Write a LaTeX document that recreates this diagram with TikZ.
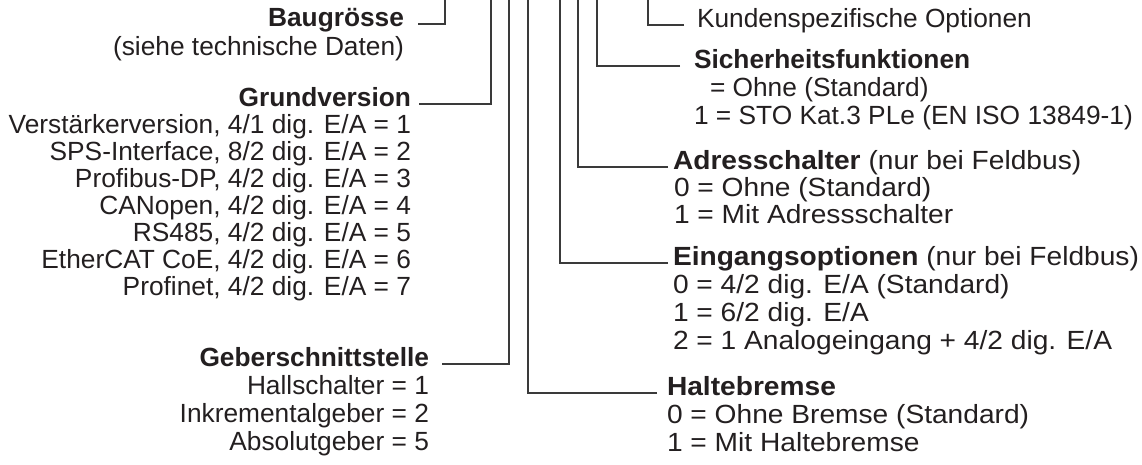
\documentclass[tikz,border=0pt]{standalone}
\usepackage{fontspec}
\setmainfont{Liberation Sans}
\newfontfamily\widefont[FakeStretch=1.07]{Liberation Sans}
\definecolor{ink}{HTML}{231F20}
\definecolor{wire}{HTML}{3A3A3A}
\tikzset{
  lbl/.style={inner sep=0pt, outer sep=0pt, font=\fontsize{26.3}{28}\selectfont, text=ink},
  hd/.style={lbl, font=\fontsize{26.3}{28}\selectfont\bfseries},
  wlbl/.style={lbl, font=\fontsize{26.3}{28}\selectfont\widefont},
  whd/.style={lbl, font=\fontsize{26.3}{28}\selectfont\widefont\bfseries},
  lft/.style={anchor=mid east},
  rgt/.style={anchor=mid west},
  conn/.style={draw=wire, line width=1.25pt},
}
\begin{document}
\begin{tikzpicture}[x=1pt,y=-1pt]
\useasboundingbox (0,0) rectangle (1142,465);

% top ends of the connectors
\coordinate (t1) at (445,0);
\coordinate (t2) at (491,0);
\coordinate (t3) at (509,0);
\coordinate (t4) at (528,0);
\coordinate (t5) at (560,0);
\coordinate (t6) at (578,0);
\coordinate (t7) at (597,0);
\coordinate (t8) at (648,0);

% left column
\node[hd,lft] (bg) at (404,24) {Baugrösse};
\node[lbl,lft] (bg1) at (404,53) {(siehe technische Daten)};

\node[hd,lft] (gv) at (411,104) {Grundversion};
\node[lbl,lft] (gv1) at (411,131) {Verstärkerversion, 4/1 dig. E/A = 1};
\node[lbl,lft] (gv2) at (411,158) {SPS-Interface, 8/2 dig. E/A = 2};
\node[lbl,lft] (gv3) at (411,185) {Profibus-DP, 4/2 dig. E/A = 3};
\node[lbl,lft] (gv4) at (411,212) {CANopen, 4/2 dig. E/A = 4};
\node[lbl,lft] (gv5) at (411,239) {RS485, 4/2 dig. E/A = 5};
\node[lbl,lft] (gv6) at (411,266) {EtherCAT CoE, 4/2 dig. E/A = 6};
\node[lbl,lft] (gv7) at (411,293) {Profinet, 4/2 dig. E/A = 7};

\node[hd,lft] (gs) at (429,364) {Geberschnittstelle};
\node[lbl,lft] (gs1) at (429,392) {Hallschalter = 1};
\node[lbl,lft] (gs2) at (429,420) {Inkrementalgeber = 2};
\node[lbl,lft] (gs3) at (429,448) {Absolutgeber = 5};

% right column
\node[lbl,rgt] (ko) at (697,25) {Kundenspezifische Optionen};

\node[hd,rgt] (sf) at (694,66) {Sicherheitsfunktionen};
\node[lbl,rgt] (sf1) at (694,94) {\hspace*{16pt}= Ohne (Standard)};
\node[lbl,rgt] (sf2) at (694,122) {1 = STO Kat.3 PLe (EN ISO 13849-1)};

\node[wlbl,rgt] (as) at (673,167) {\textbf{Adresschalter} (nur bei Feldbus)};
\node[wlbl,rgt] (as1) at (674,194) {0 = Ohne (Standard)};
\node[wlbl,rgt] (as2) at (674,221) {1 = Mit Adressschalter};

\node[wlbl,rgt] (eo) at (673,263) {\textbf{Eingangsoptionen} (nur bei Feldbus)};
\node[wlbl,rgt] (eo1) at (673,291) {0 = 4/2 dig. E/A (Standard)};
\node[wlbl,rgt] (eo2) at (673,319) {1 = 6/2 dig. E/A};
\node[wlbl,rgt] (eo3) at (673,347) {2 = 1 Analogeingang + 4/2 dig. E/A};

\node[whd,rgt] (hb) at (667,393) {Haltebremse};
\node[wlbl,rgt] (hb1) at (667,421) {0 = Ohne Bremse (Standard)};
\node[wlbl,rgt] (hb2) at (667,449) {1 = Mit Haltebremse};

% connectors
\draw[conn] ([xshift=14pt]bg.mid east) -| (t1);
\draw[conn] ([xshift=8pt]gv.mid east) -| (t2);
\draw[conn] ([xshift=13pt]gs.mid east) -| (t3);
\draw[conn] ([xshift=-10pt]hb.mid west) -| (t4);
\draw[conn] ([xshift=-5pt]eo.mid west) -| (t5);
\draw[conn] ([xshift=-5pt]as.mid west) -| (t6);
\draw[conn] ([xshift=-14pt]sf.mid west) -| (t7);
\draw[conn] ([xshift=-13pt]ko.mid west) -| (t8);
\end{tikzpicture}
\end{document}
